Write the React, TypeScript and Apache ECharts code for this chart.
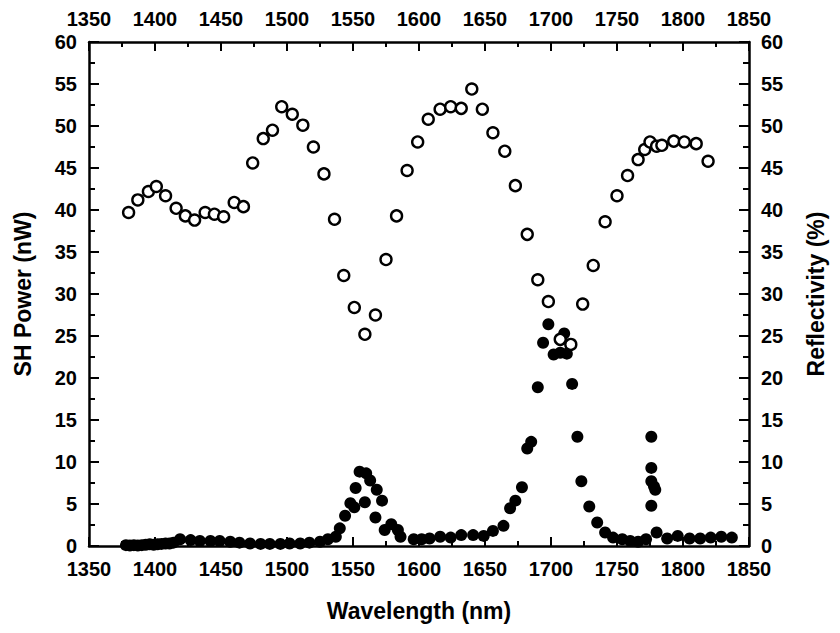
import React, { useEffect, useRef } from "react";
import * as echarts from "echarts";

const xTicks = [1350, 1400, 1450, 1500, 1550, 1600, 1650, 1700, 1750, 1800, 1850];
const yTicks = [0, 5, 10, 15, 20, 25, 30, 35, 40, 45, 50, 55, 60];

const reflWavelength = [
  1380, 1387, 1395, 1401, 1408, 1416, 1423, 1430, 1438, 1445, 1452, 1460, 1467, 1474, 1482, 1489,
  1496, 1504, 1512, 1520, 1528, 1536, 1543, 1551, 1559, 1567, 1575, 1583, 1591, 1599, 1607, 1616,
  1624, 1632, 1640, 1648, 1656, 1665, 1673, 1682, 1690, 1698, 1707, 1715, 1724, 1732, 1741, 1750,
  1758, 1766, 1771, 1775, 1780, 1784, 1793, 1801, 1810, 1819,
];
const reflValue = [
  39.7, 41.2, 42.2, 42.8, 41.7, 40.2, 39.3, 38.8, 39.7, 39.5, 39.2, 40.9, 40.4, 45.6, 48.5, 49.5,
  52.3, 51.4, 50.1, 47.5, 44.3, 38.9, 32.2, 28.4, 25.2, 27.5, 34.1, 39.3, 44.7, 48.1, 50.8, 52.0,
  52.3, 52.1, 54.4, 52.0, 49.2, 47.0, 42.9, 37.1, 31.7, 29.1, 24.6, 24.0, 28.8, 33.4, 38.6, 41.7,
  44.1, 46.0, 47.2, 48.1, 47.6, 47.7, 48.2, 48.1, 47.9, 45.8,
];

const shWavelength = [
  1378, 1381, 1384, 1387, 1390, 1393, 1396, 1399, 1402, 1405, 1408, 1411, 1414, 1419, 1427, 1434,
  1442, 1449, 1457, 1464, 1472, 1480, 1487, 1495, 1502, 1510, 1517, 1525, 1531, 1537, 1540, 1544,
  1548, 1551, 1552, 1555, 1559, 1560, 1563, 1567, 1568, 1572, 1574, 1579, 1584, 1586, 1596, 1602,
  1608, 1616, 1624, 1632, 1641, 1649, 1656, 1664, 1669, 1673, 1678, 1682, 1685, 1690, 1694, 1698,
  1702, 1707, 1710, 1712, 1716, 1720, 1723, 1729, 1735, 1741, 1747, 1754, 1760, 1766, 1772, 1776,
  1776, 1776, 1778, 1779, 1776, 1780, 1788, 1796, 1805, 1813, 1821, 1829, 1837,
];
const shValue = [
  0.1, 0.05, 0.1, 0.05, 0.1, 0.15, 0.2, 0.15, 0.2, 0.25, 0.3, 0.3, 0.4, 0.8, 0.7, 0.6,
  0.6, 0.6, 0.5, 0.4, 0.3, 0.25, 0.25, 0.25, 0.3, 0.3, 0.4, 0.5, 0.8, 1.1, 2.1, 3.6,
  5.1, 4.6, 6.9, 8.85, 5.2, 8.65, 7.8, 3.4, 6.7, 5.4, 1.9, 2.6, 1.9, 1.1, 0.8, 0.8,
  0.9, 1.1, 1.0, 1.3, 1.3, 1.2, 1.8, 2.4, 4.5, 5.4, 7.0, 11.6, 12.4, 18.9, 24.2, 26.4,
  22.8, 23.0, 25.3, 22.9, 19.3, 13.0, 7.7, 4.7, 2.8, 1.6, 1.0, 0.8, 0.6, 0.5, 0.8, 13.0,
  9.3, 7.7, 7.1, 6.7, 4.8, 1.6, 0.9, 1.2, 0.9, 0.9, 1.0, 1.1, 1.0,
];

const FONT = "'Liberation Sans', Arial, Helvetica, sans-serif";

export default function App() {
  const ref = useRef<HTMLDivElement>(null);
  useEffect(() => {
    if (!ref.current) return;
    const chart = echarts.init(ref.current, undefined, { renderer: "svg" });
    const labelStyle = {
      fontSize: 20,
      lineHeight: 20,
      fontWeight: "bold" as const,
      color: "#000",
      fontFamily: FONT,
    };
    const lineStyle = { color: "#000", width: 2.5 };
    const xCommon = (position: "bottom" | "top", showName: boolean) => ({
      type: "value" as const,
      position,
      min: xTicks[0],
      max: xTicks[xTicks.length - 1],
      interval: 50,
      name: showName ? "Wavelength (nm)" : "",
      nameLocation: "middle" as const,
      nameGap: 53,
      nameTextStyle: { fontSize: 23, fontWeight: "bold" as const, color: "#000", fontFamily: FONT },
      axisLine: { show: true, onZero: false, lineStyle },
      axisTick: { show: true, inside: true, length: 9, lineStyle: { color: "#000", width: 2 } },
      minorTick: { show: true, splitNumber: 2, length: 5, lineStyle: { color: "#000", width: 2 } },
      splitLine: { show: false },
      axisLabel: {
        ...labelStyle,
        margin: 13,
        showMinLabel: true,
        showMaxLabel: true,
        formatter: (v: number) => String(v),
      },
    });
    const yCommon = (position: "left" | "right", name: string) => ({
      type: "value" as const,
      position,
      min: yTicks[0],
      max: yTicks[yTicks.length - 1],
      interval: 5,
      name,
      nameLocation: "middle" as const,
      nameRotate: 90,
      nameGap: 55,
      nameTextStyle: { fontSize: 23, fontWeight: "bold" as const, color: "#000", fontFamily: FONT },
      axisLine: { show: true, onZero: false, lineStyle },
      axisTick: { show: true, inside: true, length: 10, lineStyle: { color: "#000", width: 2 } },
      minorTick: { show: true, splitNumber: 2, length: 6, lineStyle: { color: "#000", width: 2 } },
      splitLine: { show: false },
      axisLabel: { ...labelStyle, margin: 12, formatter: (v: number) => String(v) },
    });
    chart.setOption({
      animation: false,
      backgroundColor: "#fff",
      grid: { left: 89, right: 91, top: 42, bottom: 87, containLabel: false },
      xAxis: [xCommon("bottom", true), xCommon("top", false)],
      yAxis: [yCommon("left", "SH Power (nW)"), yCommon("right", "Reflectivity (%)")],
      series: [
        {
          name: "SH Power",
          type: "scatter",
          xAxisIndex: 0,
          yAxisIndex: 0,
          symbol: "circle",
          symbolSize: 12,
          itemStyle: { color: "#000", opacity: 1 },
          data: shWavelength.map((w, i) => [w, shValue[i]]),
          z: 2,
        },
        {
          name: "Reflectivity",
          type: "scatter",
          xAxisIndex: 0,
          yAxisIndex: 1,
          symbol: "circle",
          symbolSize: 11,
          itemStyle: { color: "#fff", borderColor: "#000", borderWidth: 2.4, opacity: 1 },
          data: reflWavelength.map((w, i) => [w, reflValue[i]]),
          z: 3,
        },
      ],
    });
    return () => chart.dispose();
  }, []);
  return (
    <div
      ref={ref}
      style={{ position: "absolute", left: 0, top: 0, width: 840, height: 633 }}
    />
  );
}
